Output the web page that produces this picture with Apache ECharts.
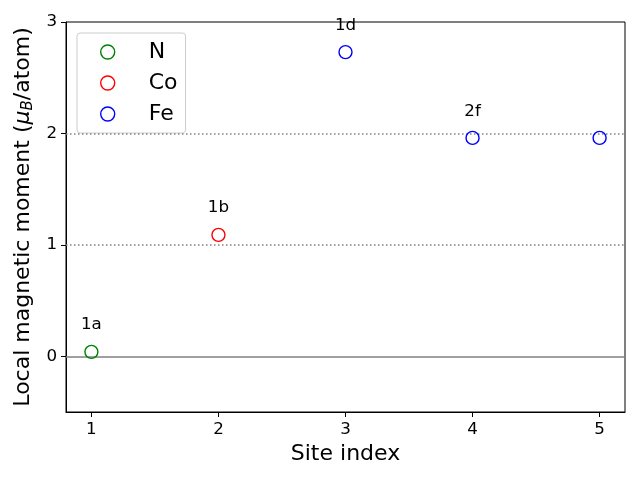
<!DOCTYPE html>
<html><head><meta charset="utf-8">
<script src="https://cdn.jsdelivr.net/npm/echarts@6/dist/echarts.min.js"></script>
<style>html,body{margin:0;padding:0;background:#fff}#c{width:640px;height:480px}</style>
</head><body><div id="c"></div>
<script>
const seriesNames = ['N', 'Co', 'Fe'];
const seriesColors = ['#008000', '#ff0000', '#0000ff'];
const nData = [[1, 0.04]];
const coData = [[2, 1.09]];
const feData = [[3, 2.73], [4, 1.96], [5, 1.96]];
const siteLabels = ['1a', '1b', '1d', '2f', ''];
const xTicks = [1, 2, 3, 4, 5];
const yTicks = [0, 1, 2, 3];
const refLines = [0, 1, 2];

const font = 'DejaVu Sans';
const chart = echarts.init(document.getElementById('c'), null, {renderer: 'canvas'});
const allData = [nData, coData, feData];
function mk(i) {
  return {
    name: seriesNames[i], type: 'scatter', symbol: 'circle', symbolSize: 13,
    itemStyle: {color: 'rgba(255,255,255,0)', borderColor: seriesColors[i], borderWidth: 1.4, opacity: 1},
    data: allData[i],
    label: {show: true, position: 'top', distance: 11, color: '#000', fontSize: 16.7, fontFamily: font,
      formatter: p => siteLabels[p.value[0] - 1]},
    z: 5
  };
}
const series = [mk(0), mk(1), mk(2)];
series[0].markLine = {
  silent: true, symbol: 'none', label: {show: false},
  data: refLines.map(v => ({yAxis: v, lineStyle: v === 0
    ? {color: '#808080', width: 1.5, type: 'solid'}
    : {color: '#808080', width: 1.5, type: [1.5, 2.5]}}))
};
chart.setOption({
  animation: false,
  grid: {left: 66, right: 15, top: 22, bottom: 68, show: true, borderColor: '#000', borderWidth: 1, backgroundColor: 'transparent'},
  legend: {
    data: seriesNames, orient: 'vertical', left: 77, top: 33,
    padding: [6, 8, 6, 23], itemGap: 5, itemWidth: 14, itemHeight: 14,
    borderColor: '#cccccc', borderWidth: 1, borderRadius: 3, backgroundColor: 'rgba(255,255,255,0.8)',
    textStyle: {fontSize: 22, fontFamily: font, color: '#000', padding: [0, 0, 0, 29], lineHeight: 26},
    itemStyle: {borderWidth: 1.4}
  },
  xAxis: {
    type: 'value', min: 0.8, max: 5.2,
    name: 'Site index', nameLocation: 'middle', nameGap: 31,
    nameTextStyle: {fontSize: 22, fontFamily: font, color: '#000'},
    axisLine: {show: true, onZero: false, lineStyle: {color: '#000', width: 1}},
    axisTick: {show: true, length: 5, customValues: xTicks, lineStyle: {color: '#000'}},
    axisLabel: {fontSize: 16.7, fontFamily: font, color: '#000', margin: 9, customValues: xTicks},
    splitLine: {show: false}
  },
  yAxis: {
    type: 'value', min: -0.5, max: 3,
    name: '{a|Local magnetic moment (}{i|μ}{s|B}{a|/atom)}', nameLocation: 'middle', nameGap: 29, nameRotate: 90,
    nameTextStyle: {fontSize: 22, fontFamily: font, color: '#000',
      rich: {
        a: {fontSize: 22, fontFamily: font, color: '#000'},
        i: {fontSize: 22, fontFamily: font, fontStyle: 'italic', color: '#000'},
        s: {fontSize: 15, fontFamily: font, fontStyle: 'italic', color: '#000', padding: [9, 0, 0, 0]}
      }},
    axisLine: {show: true, onZero: false, lineStyle: {color: '#000', width: 1}},
    axisTick: {show: true, length: 5, customValues: yTicks, lineStyle: {color: '#000'}},
    axisLabel: {fontSize: 16.7, fontFamily: font, color: '#000', margin: 9, customValues: yTicks},
    splitLine: {show: false}
  },
  series: series
});
</script></body></html>
